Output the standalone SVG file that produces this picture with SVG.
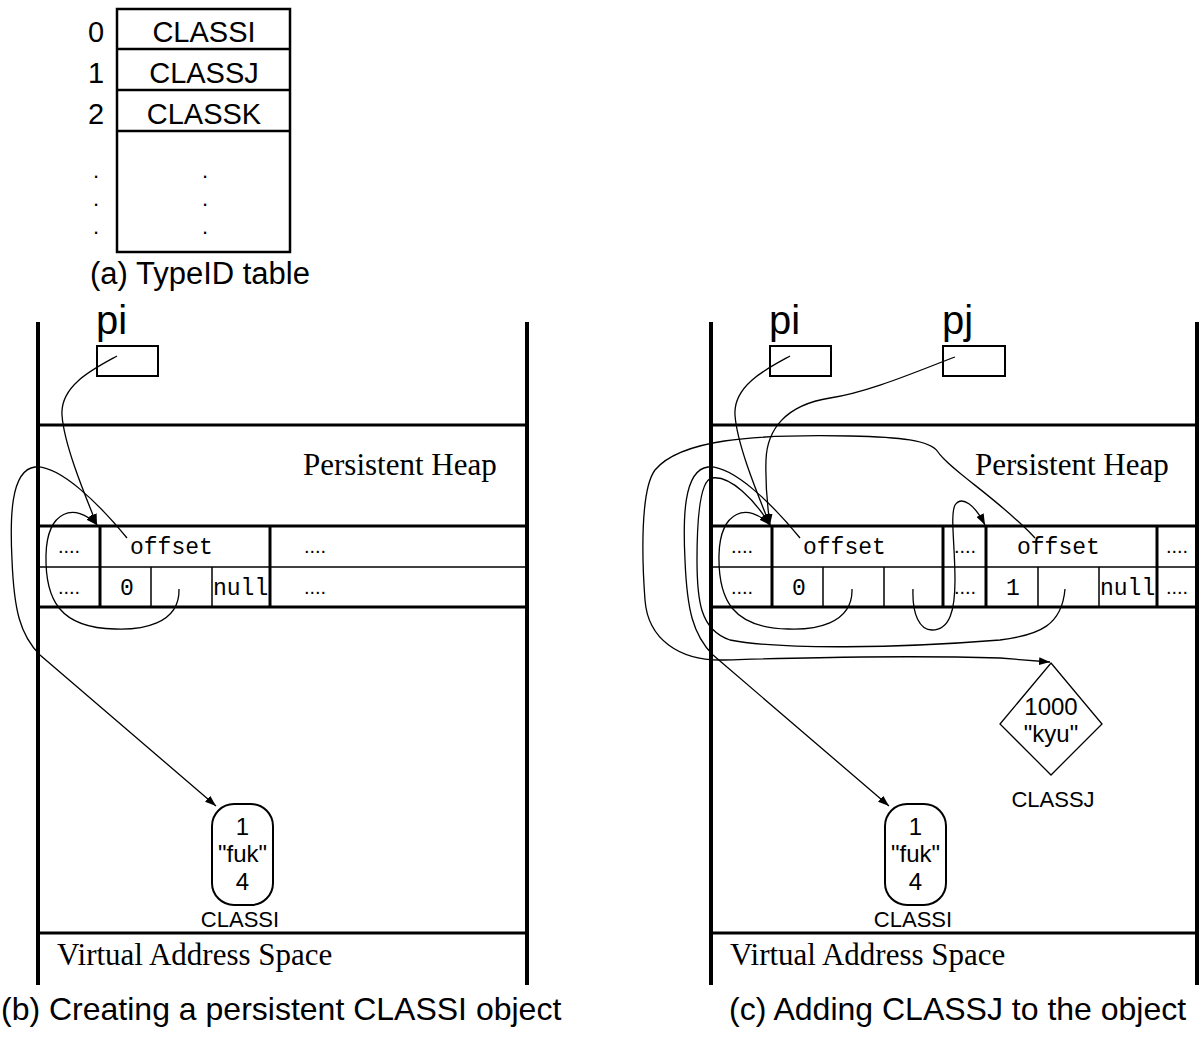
<svg xmlns="http://www.w3.org/2000/svg" width="1202" height="1044" viewBox="0 0 1202 1044">
<defs>
<marker id="ah" markerUnits="userSpaceOnUse" markerWidth="11" markerHeight="8" refX="11" refY="4" orient="auto">
<path d="M0,0 L11,4 L0,8 z" fill="#000"/>
</marker>
<style>
.sans{font-family:"Liberation Sans",Arial,sans-serif;fill:#000}
.serif{font-family:"Liberation Serif","Times New Roman",serif;fill:#000;font-size:31px}
.mono{font-family:"Liberation Mono","Courier New",monospace;fill:#000;font-size:23px}
.dots{font-family:"Liberation Sans",Arial,sans-serif;font-size:20px;fill:#000;text-anchor:middle}
.vdot{font-family:"Liberation Sans",Arial,sans-serif;font-size:22px;fill:#000;text-anchor:middle}
.thick{stroke:#000;stroke-width:4;fill:none}
.mid{stroke:#000;stroke-width:3;fill:none}
.thin{stroke:#000;stroke-width:1.5;fill:none}
.box{stroke:#000;stroke-width:2;fill:#fff}
.conn path{stroke:#000;stroke-width:1.3;fill:none}
.arr{marker-end:url(#ah)}
</style>
</defs>
<rect width="1202" height="1044" fill="#fff"/>

<!-- (a) TypeID table -->
<g id="typeid-table">
<rect x="117" y="9" width="173" height="243" class="mid" style="stroke-width:2.5"/>
<line x1="117" y1="49" x2="290" y2="49" class="mid" style="stroke-width:2.5"/>
<line x1="117" y1="90" x2="290" y2="90" class="mid" style="stroke-width:2.5"/>
<line x1="117" y1="131" x2="290" y2="131" class="mid" style="stroke-width:2.5"/>
<g class="sans" font-size="29" text-anchor="middle">
<text x="204" y="42">CLASSI</text>
<text x="204" y="83">CLASSJ</text>
<text x="204" y="124">CLASSK</text>
<text x="96" y="42">0</text>
<text x="96" y="83">1</text>
<text x="96" y="124">2</text>
</g>
<text x="96" y="178" class="vdot">.</text>
<text x="96" y="206" class="vdot">.</text>
<text x="96" y="234" class="vdot">.</text>
<text x="205" y="178" class="vdot">.</text>
<text x="205" y="206" class="vdot">.</text>
<text x="205" y="234" class="vdot">.</text>
<text x="90" y="284" class="sans" font-size="31">(a) TypeID table</text>
</g>

<!-- (b) panel -->
<g id="panel-b">
<line x1="38" y1="322" x2="38" y2="985" class="thick"/>
<line x1="527" y1="322" x2="527" y2="985" class="thick"/>
<line x1="38" y1="425" x2="527" y2="425" class="mid"/>
<line x1="38" y1="933" x2="527" y2="933" class="mid"/>
<text x="303" y="475" class="serif">Persistent Heap</text>
<text x="57" y="965" class="serif">Virtual Address Space</text>
<text x="1" y="1020" class="sans" font-size="32">(b) Creating a persistent CLASSI object</text>
</g>
<g id="pi-b">
<text x="96" y="334" class="sans" font-size="40">pi</text>
<rect x="97" y="346" width="61" height="30" class="box"/>
</g>
<g id="heap-table-b">
<line x1="38" y1="526" x2="527" y2="526" class="mid"/>
<line x1="38" y1="567" x2="527" y2="567" class="thin"/>
<line x1="38" y1="607" x2="527" y2="607" class="mid"/>
<line x1="100" y1="526" x2="100" y2="607" class="mid"/>
<line x1="270" y1="526" x2="270" y2="607" class="mid"/>
<line x1="151" y1="567" x2="151" y2="607" class="thin"/>
<line x1="212" y1="567" x2="212" y2="607" class="thin"/>
<text x="69" y="553" class="dots">....</text>
<text x="69" y="594" class="dots">....</text>
<text x="315" y="553" class="dots">....</text>
<text x="315" y="594" class="dots">....</text>
<text x="130" y="554" class="mono">offset</text>
<text x="127" y="595" class="mono" font-size="20" text-anchor="middle">0</text>
<text x="213" y="595" class="mono">null</text>
</g>
<g id="classi-b">
<rect x="212" y="804" width="61" height="101" rx="22" class="box"/>
<g class="sans" font-size="24" text-anchor="middle">
<text x="242.5" y="835">1</text>
<text x="242.5" y="862">"fuk"</text>
<text x="242.5" y="890">4</text>
</g>
<text x="240" y="927" class="sans" font-size="22" text-anchor="middle">CLASSI</text>
</g>

<!-- (c) panel -->
<g id="panel-c">
<line x1="711" y1="322" x2="711" y2="985" class="thick"/>
<line x1="1197" y1="322" x2="1197" y2="985" class="thick"/>
<line x1="711" y1="425" x2="1197" y2="425" class="mid"/>
<line x1="711" y1="933" x2="1197" y2="933" class="mid"/>
<text x="975" y="475" class="serif">Persistent Heap</text>
<text x="730" y="965" class="serif">Virtual Address Space</text>
<text x="729" y="1020" class="sans" font-size="32">(c) Adding CLASSJ to the object</text>
</g>
<g id="pi-c">
<text x="769" y="334" class="sans" font-size="40">pi</text>
<rect x="770" y="346" width="61" height="30" class="box"/>
</g>
<g id="pj-c">
<text x="942" y="334" class="sans" font-size="40">pj</text>
<rect x="943" y="346" width="62" height="30" class="box"/>
</g>
<g id="heap-table-c">
<line x1="711" y1="526" x2="1197" y2="526" class="mid"/>
<line x1="711" y1="567" x2="1197" y2="567" class="thin"/>
<line x1="711" y1="607" x2="1197" y2="607" class="mid"/>
<line x1="772" y1="526" x2="772" y2="607" class="mid"/>
<line x1="943" y1="526" x2="943" y2="607" class="mid"/>
<line x1="986" y1="526" x2="986" y2="607" class="mid"/>
<line x1="1157" y1="526" x2="1157" y2="607" class="mid"/>
<line x1="823" y1="567" x2="823" y2="607" class="thin"/>
<line x1="884" y1="567" x2="884" y2="607" class="thin"/>
<line x1="1038" y1="567" x2="1038" y2="607" class="thin"/>
<line x1="1099" y1="567" x2="1099" y2="607" class="thin"/>
<text x="742" y="553" class="dots">....</text>
<text x="742" y="594" class="dots">....</text>
<text x="965" y="553" class="dots">....</text>
<text x="965" y="594" class="dots">....</text>
<text x="1177" y="553" class="dots">....</text>
<text x="1177" y="594" class="dots">....</text>
<text x="803" y="554" class="mono">offset</text>
<text x="1017" y="554" class="mono">offset</text>
<text x="799" y="595" class="mono" font-size="20" text-anchor="middle">0</text>
<text x="1013" y="595" class="mono" font-size="20" text-anchor="middle">1</text>
<text x="1100" y="595" class="mono">null</text>
</g>
<g id="classj-c">
<polygon points="1051,663 1102,724 1051,775 1000,724" class="box" style="stroke-width:1.3"/>
<g class="sans" font-size="24" text-anchor="middle">
<text x="1051" y="715">1000</text>
<text x="1051" y="742">"kyu"</text>
</g>
<text x="1053" y="807" class="sans" font-size="22" text-anchor="middle">CLASSJ</text>
</g>
<g id="classi-c">
<rect x="885" y="804" width="61" height="101" rx="22" class="box"/>
<g class="sans" font-size="24" text-anchor="middle">
<text x="915.5" y="835">1</text>
<text x="915.5" y="862">"fuk"</text>
<text x="915.5" y="890">4</text>
</g>
<text x="913" y="927" class="sans" font-size="22" text-anchor="middle">CLASSI</text>
</g>

<g id="connectors" class="conn">
<!-- panel b -->
<path class="arr" d="M117,356 C95,368 60,385 62,415 C64,445 85,495 97,525"/>
<path class="arr" d="M179,589 C180,625 140,630 115,629 C60,628 45,600 46,555 C47,510 75,502 97,525"/>
<path class="arr" d="M127,538 C100,505 60,465 35,467 C10,470 10,520 12,560 C14,610 20,635 40,655 L216,806"/>
<!-- panel c -->
<path class="arr" d="M790,356 C768,368 733,385 735,415 C737,445 758,495 770,525"/>
<path class="arr" d="M955,357 C920,370 870,392 830,398 C785,405 767,430 766,460 C765,490 768,510 770,525"/>
<path class="arr" d="M852,589 C853,625 813,630 788,629 C733,628 718,600 719,555 C720,510 748,502 770,525"/>
<path class="arr" d="M800,538 C773,505 733,465 708,467 C683,470 683,520 685,560 C687,610 693,635 713,655 L889,806"/>
<path class="arr" d="M1065,589 C1062,625 1040,635 1000,640 C900,648 780,650 730,640 C700,630 697,600 697,560 C697,520 700,480 712,478 C730,475 755,500 770,525"/>
<path class="arr" d="M913,589 C912,615 920,630 932,630 C950,630 955,610 955,580 C955,545 950,515 955,505 C962,495 975,505 985,525"/>
<path class="arr" d="M1035,538 C1000,500 950,470 938,452 C930,440 900,437 850,436 C750,434 680,440 655,470 C640,490 642,560 645,600 C648,640 680,660 720,660 C800,658 900,655 1000,658 L1050,662"/>
</g>
</svg>
